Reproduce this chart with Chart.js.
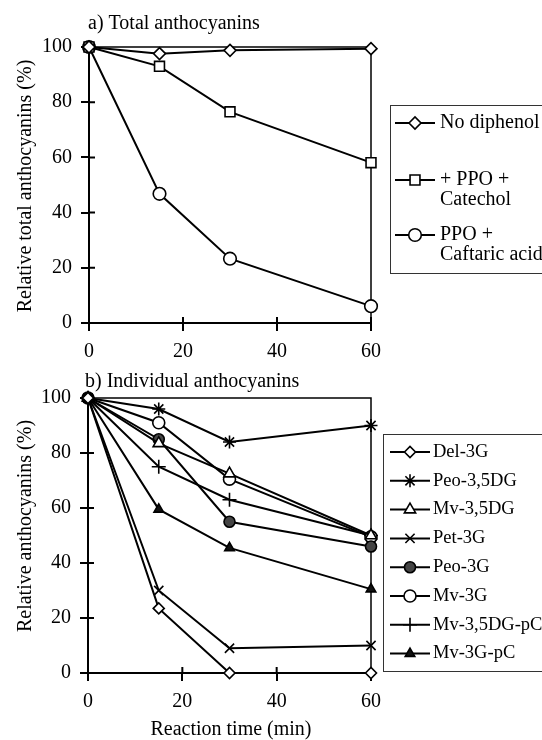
<!DOCTYPE html>
<html>
<head>
<meta charset="utf-8">
<script src="https://cdn.jsdelivr.net/npm/chart.js"></script>
<style>
  html, body { margin: 0; padding: 0; background: #fff; }
  .panel { position: relative; width: 542px; height: 370px; }
</style>
</head>
<body>
<div class="panel"><canvas id="totalChart" width="542" height="370"></canvas></div>
<div class="panel"><canvas id="individualChart" width="542" height="370"></canvas></div>
<script>
const times = [0, 15, 30, 60];
const xTicks = [0, 20, 40, 60];
const yTicks = [0, 20, 40, 60, 80, 100];

// a) total anthocyanins
const noDiphenol = [100, 97.6, 98.8, 99.4];
const ppoCatechol = [100, 93, 76.5, 58.1];
const ppoCaftaric = [100, 46.8, 23.3, 6.1];

// b) individual anthocyanins
const del3G = [100, 23.5, 0, 0];
const peo35DG = [100, 96, 84, 90];
const mv35DG = [100, 83.5, 72.5, 50];
const pet3G = [100, 30, 9, 10];
const peo3G = [100, 85, 55, 46];
const mv3G = [100, 91, 70.5, 49.5];
const mv35DGpC = [100, 75, 63, 50];
const mv3GpC = [100, 59.5, 45.5, 30.5];

const serif = '"Liberation Serif", "Times New Roman", serif';
Chart.defaults.font.family = serif;
Chart.defaults.color = '#000';

function series(label, values, shape, r, fill) {
  return {
    label: label,
    data: times.map((t, i) => ({ x: t, y: values[i] })),
    borderColor: '#000',
    borderWidth: 2,
    pointStyle: shape,
    pointRadius: r,
    pointBackgroundColor: fill || '#fff',
    pointBorderColor: '#000',
    pointBorderWidth: 1.6,
    tension: 0,
    fill: false,
    clip: false
  };
}

// axis box (top + right) and the inner half of the ticks
const frame = {
  id: 'frame',
  beforeDatasetsDraw(chart) {
    const { ctx, chartArea: a, scales } = chart;
    ctx.save();
    ctx.strokeStyle = '#000';
    ctx.lineWidth = 1.5;
    ctx.beginPath();
    ctx.moveTo(a.left, a.top);
    ctx.lineTo(a.right, a.top);
    ctx.lineTo(a.right, a.bottom);
    ctx.stroke();
    ctx.lineWidth = 2;
    ctx.beginPath();
    yTicks.forEach(v => {
      const py = scales.y.getPixelForValue(v);
      ctx.moveTo(a.left, py); ctx.lineTo(a.left + 6, py);
    });
    xTicks.forEach(v => {
      const px = scales.x.getPixelForValue(v);
      ctx.moveTo(px, a.bottom); ctx.lineTo(px, a.bottom - 6);
    });
    ctx.stroke();
    ctx.restore();
  }
};

const panelText = {
  id: 'panelText',
  afterDraw(chart, args, o) {
    const ctx = chart.ctx;
    ctx.save();
    ctx.fillStyle = '#000';
    ctx.font = '20px ' + serif;
    ctx.textBaseline = 'alphabetic';
    ctx.textAlign = 'left';
    ctx.fillText(o.title, o.titleX, o.titleY);
    if (o.xTitle) {
      ctx.textAlign = 'center';
      ctx.fillText(o.xTitle, o.xTitleX, o.xTitleY);
    }
    ctx.translate(o.yTitleX, o.yTitleY);
    ctx.rotate(-Math.PI / 2);
    ctx.textAlign = 'center';
    ctx.fillText(o.yTitle, 0, 0);
    ctx.restore();
  }
};

const boxLegend = {
  id: 'boxLegend',
  afterDraw(chart, args, o) {
    const ctx = chart.ctx;
    ctx.save();
    ctx.strokeStyle = '#333';
    ctx.lineWidth = 1;
    ctx.strokeRect(o.x + 0.5, o.y + 0.5, o.w, o.h);
    ctx.font = o.size + 'px ' + serif;
    ctx.textBaseline = 'middle';
    ctx.textAlign = 'left';
    chart.data.datasets.forEach((ds, i) => {
      const y = o.rows[i];
      ctx.strokeStyle = '#000';
      ctx.lineWidth = 2;
      ctx.beginPath();
      ctx.moveTo(o.x0, y); ctx.lineTo(o.x1, y);
      ctx.stroke();
      ctx.fillStyle = ds.pointBackgroundColor;
      ctx.lineWidth = ds.pointBorderWidth;
      Chart.helpers.drawPoint(ctx, {
        pointStyle: ds.pointStyle, radius: ds.pointRadius,
        rotation: 0, borderWidth: ds.pointBorderWidth
      }, (o.x0 + o.x1) / 2, y);
      ctx.fillStyle = '#000';
      ds.label.split('\n').forEach((line, k) => {
        ctx.fillText(line, o.textX, y + k * o.gap);
      });
    });
    ctx.restore();
  }
};

function axes(yWidth) {
  const tickFont = { family: serif, size: 20 };
  const grid = { drawOnChartArea: false, drawTicks: true, tickLength: 8, color: '#000', lineWidth: 2 };
  const border = { color: '#000', width: 2 };
  return {
    x: {
      type: 'linear', min: 0, max: 60,
      afterBuildTicks: s => { s.ticks = xTicks.map(v => ({ value: v })); },
      afterFit: s => { s.height = 40; },
      ticks: { font: tickFont, color: '#000', padding: 9, maxRotation: 0 },
      grid: grid, border: border
    },
    y: {
      min: 0, max: 100,
      afterBuildTicks: s => { s.ticks = yTicks.map(v => ({ value: v })); },
      afterFit: s => { s.width = yWidth; },
      ticks: { font: tickFont, color: '#000', padding: 9 },
      grid: grid, border: border
    }
  };
}

new Chart(document.getElementById('totalChart'), {
  type: 'line',
  data: {
    datasets: [
      series('No diphenol', noDiphenol, 'rectRot', 6),
      series('+ PPO +\nCatechol', ppoCatechol, 'rect', 7),
      series('PPO +\nCaftaric acid', ppoCaftaric, 'circle', 6.3)
    ]
  },
  options: {
    responsive: false,
    animation: false,
    layout: { padding: { left: 0, right: 171, top: 47, bottom: 7 } },
    scales: axes(89),
    plugins: {
      legend: { display: false },
      tooltip: { enabled: false },
      panelText: {
        title: 'a) Total anthocyanins', titleX: 88, titleY: 29,
        yTitle: 'Relative total anthocyanins (%)', yTitleX: 31, yTitleY: 186
      },
      boxLegend: {
        x: 390, y: 105, w: 170, h: 168, size: 20, gap: 20,
        rows: [123, 180, 235], x0: 395, x1: 435, textX: 440
      }
    }
  },
  plugins: [frame, panelText, boxLegend]
});

new Chart(document.getElementById('individualChart'), {
  type: 'line',
  data: {
    datasets: [
      series('Del-3G', del3G, 'rectRot', 5.5),
      series('Peo-3,5DG', peo35DG, 'star', 6.5),
      series('Mv-3,5DG', mv35DG, 'triangle', 6.5),
      series('Pet-3G', pet3G, 'crossRot', 6.5),
      series('Peo-3G', peo3G, 'circle', 5.5, '#444'),
      series('Mv-3G', mv3G, 'circle', 6),
      series('Mv-3,5DG-pC', mv35DGpC, 'cross', 7),
      series('Mv-3G-pC', mv3GpC, 'triangle', 5.5, '#111')
    ]
  },
  options: {
    responsive: false,
    animation: false,
    layout: { padding: { left: 0, right: 171, top: 28, bottom: 27 } },
    scales: axes(88),
    plugins: {
      legend: { display: false },
      tooltip: { enabled: false },
      panelText: {
        title: 'b) Individual anthocyanins', titleX: 85, titleY: 16.5,
        yTitle: 'Relative anthocyanins (%)', yTitleX: 31, yTitleY: 156,
        xTitle: 'Reaction time (min)', xTitleX: 231, xTitleY: 365
      },
      boxLegend: {
        x: 383, y: 64, w: 170, h: 237, size: 18.5, gap: 20,
        rows: [82, 110.8, 139.6, 168.4, 197.2, 226, 254.8, 283.6],
        x0: 390, x1: 430, textX: 433
      }
    }
  },
  plugins: [frame, panelText, boxLegend]
});
</script>
</body>
</html>
